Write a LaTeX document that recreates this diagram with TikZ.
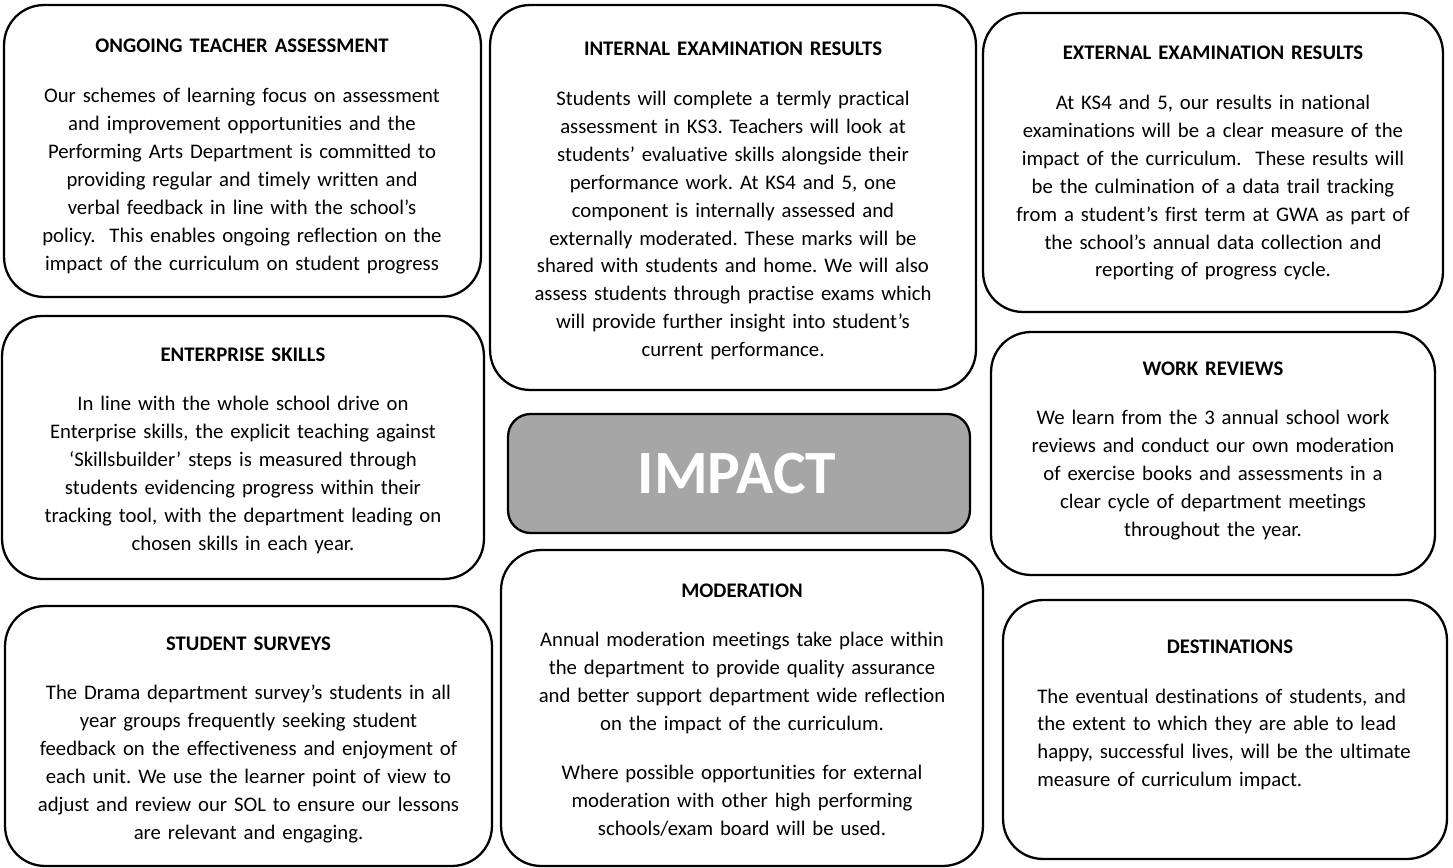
\documentclass[tikz,border=0pt]{standalone}
\usepackage{fontspec}
\setmainfont{Carlito}[Ligatures={TeX,NoCommon}]
\frenchspacing
\definecolor{impactgray}{RGB}{166,166,166}

\begin{document}
\begin{tikzpicture}[
    x=0.02cm, y=-0.02cm,
    card/.style={rectangle, draw=black, line width=1.3pt, rounded corners=0.8cm, inner sep=0pt},
    cardtext/.style={align=center, text width=9cm, inner sep=0pt, anchor=base,
                     font=\fontsize{11.8}{15.93}\selectfont},
]
    \fill[white] (0,0) rectangle (1453,868);
    \useasboundingbox (0,0) rectangle (1453,868);

    % Boxes
    \node[card, minimum width=9.54cm, minimum height=5.84cm] (ongoing) at (242.5,151) {};
    \node[card, minimum width=9.72cm, minimum height=7.70cm] (internal) at (733,197.5) {};
    \node[card, minimum width=9.20cm, minimum height=5.98cm] (external) at (1213,162.5) {};
    \node[card, minimum width=9.64cm, minimum height=5.26cm] (enterprise) at (243,447.5) {};
    \node[card, minimum width=8.88cm, minimum height=4.86cm] (reviews) at (1213,453.5) {};
    \node[card, minimum width=9.64cm, minimum height=6.32cm] (moderation) at (742,708) {};
    \node[card, minimum width=9.74cm, minimum height=5.20cm] (surveys) at (248.5,736) {};
    \node[card, minimum width=8.88cm, minimum height=5.18cm] (destinations) at (1225,729.5) {};

    % Center
    \node[card, fill=impactgray, rounded corners=0.45cm, minimum width=9.24cm, minimum height=2.38cm] (impact) at (739,473.5) {};
    \node[anchor=base, inner sep=0pt, text=white, font=\fontsize{35}{40}\selectfont\bfseries] (impacttext) at (737,493) {IMPACT};

    % Texts
    \node[cardtext] (ongoingtext) at (242,53) {\textbf{ONGOING TEACHER ASSESSMENT}\\[12pt]
        Our schemes of learning focus on assessment\\
        and improvement opportunities and the\\
        Performing Arts Department is committed to\\
        providing regular and timely written and\\
        verbal feedback in line with the school’s\\
        policy.~ This enables ongoing reflection on the\\
        impact of the curriculum on student progress};

    \node[cardtext] (internaltext) at (733,56) {\textbf{INTERNAL EXAMINATION RESULTS}\\[12pt]
        Students will complete a termly practical\\
        assessment in KS3. Teachers will look at\\
        students’ evaluative skills alongside their\\
        performance work. At KS4 and 5, one\\
        component is internally assessed and\\
        externally moderated. These marks will be\\
        shared with students and home. We will also\\
        assess students through practise exams which\\
        will provide further insight into student’s\\
        current performance.};

    \node[cardtext] (externaltext) at (1213,60) {\textbf{EXTERNAL EXAMINATION RESULTS}\\[12pt]
        At KS4 and 5, our results in national\\
        examinations will be a clear measure of the\\
        impact of the curriculum.~ These results will\\
        be the culmination of a data trail tracking\\
        from a student’s first term at GWA as part of\\
        the school’s annual data collection and\\
        reporting of progress cycle.};

    \node[cardtext] (enterprisetext) at (243,361) {\textbf{ENTERPRISE SKILLS}\\[12pt]
        In line with the whole school drive on\\
        Enterprise skills, the explicit teaching against\\
        ‘Skillsbuilder’ steps is measured through\\
        students evidencing progress within their\\
        tracking tool, with the department leading on\\
        chosen skills in each year.};

    \node[cardtext] (reviewstext) at (1213,375) {\textbf{WORK REVIEWS}\\[12pt]
        We learn from the 3 annual school work\\
        reviews and conduct our own moderation\\
        of exercise books and assessments in a\\
        clear cycle of department meetings\\
        throughout the year.};

    \node[cardtext] (moderationtext) at (742,597) {\textbf{MODERATION}\\[12pt]
        Annual moderation meetings take place within\\
        the department to provide quality assurance\\
        and better support department wide reflection\\
        on the impact of the curriculum.\\[12pt]
        Where possible opportunities for external\\
        moderation with other high performing\\
        schools/exam board will be used.};

    \node[cardtext] (surveystext) at (248.5,650) {\textbf{STUDENT SURVEYS}\\[12pt]
        The Drama department survey’s students in all\\
        year groups frequently seeking student\\
        feedback on the effectiveness and enjoyment of\\
        each unit. We use the learner point of view to\\
        adjust and review our SOL to ensure our lessons\\
        are relevant and engaging.};

    \node[cardtext, text width=6cm] (destinationstitle) at (1230,653) {\textbf{DESTINATIONS}};
    \node[cardtext, align=left, text width=8cm, anchor=base west] (destinationstext) at (1037,703) {
        The eventual destinations of students, and\\
        the extent to which they are able to lead\\
        happy, successful lives, will be the ultimate\\
        measure of curriculum impact.};
\end{tikzpicture}
\end{document}
